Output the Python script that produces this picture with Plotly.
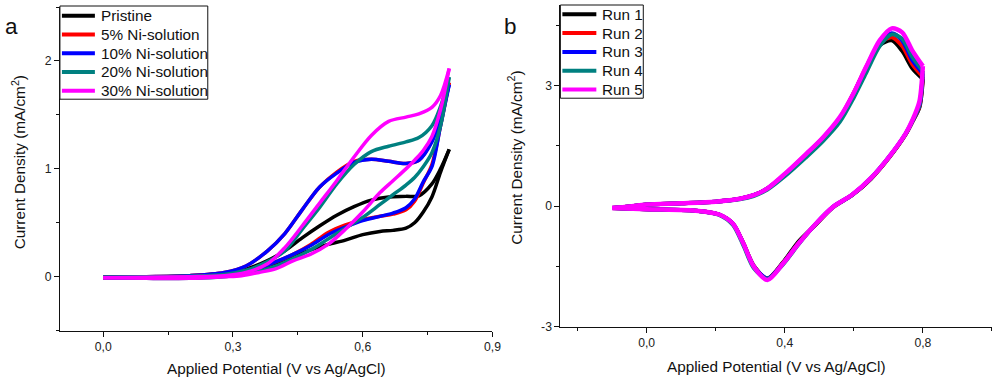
import plotly.graph_objects as go

# ---------- Panel a: Ni-solution concentration series ----------
pot_a_fwd = [0.00, 0.10, 0.20, 0.28, 0.33, 0.38, 0.42, 0.46, 0.50, 0.54, 0.58, 0.62, 0.66, 0.70, 0.73, 0.76, 0.78, 0.80]
pot_a_rev = [0.80, 0.78, 0.76, 0.74, 0.72, 0.70, 0.67, 0.64, 0.60, 0.56, 0.52, 0.48, 0.44, 0.40, 0.36, 0.32, 0.28, 0.20, 0.10, 0.00]

series_a_names = ["Pristine", "5% Ni-solution", "10% Ni-solution", "20% Ni-solution", "30% Ni-solution"]
series_a_colors = ["#000000", "#FF0000", "#0000FF", "#008080", "#FF00FF"]

pristine_fwd = [-0.005, 0.0, 0.01, 0.03, 0.07, 0.15, 0.24, 0.36, 0.47, 0.57, 0.65, 0.71, 0.74, 0.745, 0.75, 0.86, 1.00, 1.18]
pristine_rev = [1.18, 0.97, 0.74, 0.60, 0.50, 0.45, 0.43, 0.42, 0.39, 0.34, 0.30, 0.25, 0.19, 0.12, 0.07, 0.03, 0.01, -0.01, -0.015, -0.01]

ni5_fwd = [-0.005, 0.0, 0.01, 0.04, 0.10, 0.24, 0.40, 0.62, 0.83, 0.97, 1.07, 1.09, 1.07, 1.05, 1.08, 1.26, 1.48, 1.80]
ni5_rev = [1.80, 1.40, 1.04, 0.87, 0.70, 0.62, 0.58, 0.56, 0.53, 0.48, 0.41, 0.30, 0.21, 0.14, 0.08, 0.04, 0.015, -0.01, -0.015, -0.01]

ni10_fwd = [-0.005, 0.0, 0.01, 0.04, 0.10, 0.24, 0.40, 0.62, 0.83, 0.96, 1.06, 1.09, 1.07, 1.05, 1.08, 1.25, 1.47, 1.78]
ni10_rev = [1.78, 1.40, 1.02, 0.88, 0.72, 0.64, 0.59, 0.56, 0.52, 0.46, 0.39, 0.29, 0.21, 0.14, 0.08, 0.04, 0.015, -0.01, -0.015, -0.01]

ni20_fwd = [-0.005, 0.0, 0.005, 0.02, 0.06, 0.14, 0.24, 0.44, 0.64, 0.86, 1.04, 1.16, 1.21, 1.25, 1.29, 1.40, 1.58, 1.85]
ni20_rev = [1.85, 1.40, 1.15, 1.02, 0.92, 0.85, 0.76, 0.67, 0.55, 0.45, 0.35, 0.25, 0.17, 0.10, 0.05, 0.02, 0.0, -0.015, -0.015, -0.01]

ni30_fwd = [-0.01, -0.005, 0.0, 0.01, 0.04, 0.12, 0.27, 0.47, 0.68, 0.89, 1.11, 1.31, 1.44, 1.48, 1.51, 1.57, 1.68, 1.93]
ni30_rev = [1.93, 1.55, 1.30, 1.17, 1.08, 1.00, 0.89, 0.78, 0.60, 0.44, 0.30, 0.21, 0.15, 0.075, 0.04, 0.01, 0.0, -0.015, -0.015, -0.01]

series_a_fwd = [pristine_fwd, ni5_fwd, ni10_fwd, ni20_fwd, ni30_fwd]
series_a_rev = [pristine_rev, ni5_rev, ni10_rev, ni20_rev, ni30_rev]

# ---------- Panel b: repeated cycles ----------
pot_b_fwd = [-0.10, -0.05, 0.00, 0.10, 0.20, 0.27, 0.31, 0.35, 0.40, 0.46, 0.51, 0.56, 0.60, 0.635, 0.675, 0.71, 0.74, 0.77, 0.80]
pot_b_rev = [0.80, 0.79, 0.77, 0.75, 0.70, 0.65, 0.595, 0.54, 0.49, 0.44, 0.395, 0.35, 0.31, 0.28, 0.25, 0.21, 0.15, 0.00, -0.10]

series_b_names = ["Run 1", "Run 2", "Run 3", "Run 4", "Run 5"]
series_b_colors = ["#000000", "#FF0000", "#0000FF", "#008080", "#FF00FF"]

run1_fwd = [-0.05, -0.01, 0.04, 0.07, 0.11, 0.18, 0.27, 0.44, 0.78, 1.26, 1.68, 2.19, 2.80, 3.42, 4.00, 4.12, 3.86, 3.42, 3.16]
run1_rev = [3.16, 2.45, 2.10, 1.78, 1.18, 0.68, 0.27, -0.03, -0.46, -0.88, -1.40, -1.80, -1.48, -0.92, -0.44, -0.21, -0.12, -0.08, -0.05]

run2_fwd = [-0.05, -0.01, 0.04, 0.07, 0.11, 0.18, 0.27, 0.44, 0.79, 1.27, 1.69, 2.20, 2.82, 3.44, 4.05, 4.20, 3.98, 3.52, 3.22]
run2_rev = [3.22, 2.48, 2.11, 1.79, 1.19, 0.69, 0.28, -0.02, -0.45, -0.92, -1.42, -1.80, -1.49, -0.93, -0.44, -0.21, -0.12, -0.08, -0.05]

run3_fwd = [-0.05, -0.01, 0.04, 0.07, 0.11, 0.18, 0.27, 0.44, 0.78, 1.25, 1.67, 2.18, 2.80, 3.42, 4.06, 4.30, 4.12, 3.62, 3.30]
run3_rev = [3.30, 2.50, 2.12, 1.80, 1.20, 0.70, 0.28, -0.02, -0.44, -0.93, -1.43, -1.80, -1.50, -0.94, -0.44, -0.21, -0.12, -0.08, -0.05]

run4_fwd = [-0.05, -0.01, 0.04, 0.07, 0.11, 0.17, 0.25, 0.41, 0.74, 1.20, 1.61, 2.10, 2.70, 3.30, 3.98, 4.27, 4.16, 3.70, 3.36]
run4_rev = [3.36, 2.52, 2.12, 1.80, 1.20, 0.70, 0.28, -0.02, -0.44, -0.95, -1.45, -1.81, -1.54, -0.98, -0.47, -0.22, -0.12, -0.08, -0.05]

run5_fwd = [-0.05, -0.01, 0.04, 0.07, 0.11, 0.18, 0.27, 0.44, 0.80, 1.28, 1.70, 2.22, 2.82, 3.45, 4.12, 4.42, 4.32, 3.86, 3.48]
run5_rev = [3.48, 2.60, 2.14, 1.80, 1.20, 0.70, 0.28, -0.02, -0.44, -0.93, -1.43, -1.84, -1.50, -0.93, -0.44, -0.21, -0.12, -0.08, -0.05]

series_b_fwd = [run1_fwd, run2_fwd, run3_fwd, run4_fwd, run5_fwd]
series_b_rev = [run1_rev, run2_rev, run3_rev, run4_rev, run5_rev]

# Tick labels
xticks_a = [0.0, 0.3, 0.6, 0.9]
xlabels_a = ["0,0", "0,3", "0,6", "0,9"]
yticks_a = [0, 1, 2]
ylabels_a = ["0", "1", "2"]
xticks_b = [0.0, 0.4, 0.8]
xlabels_b = ["0,0", "0,4", "0,8"]
yticks_b = [-3, 0, 3]
ylabels_b = ["-3", "0", "3"]

W, H = 1001, 381
# layout grid used for placing panels, keys and labels
GRID_W, GRID_H = 993.1, 373.2
FONT = "Arial, 'Liberation Sans', sans-serif"
INK = "#111111"


def px_x(p):
    return p / GRID_W


def px_y(p):
    return 1 - p / GRID_H


fig = go.Figure()

for name, color, yf, yr in zip(series_a_names, series_a_colors, series_a_fwd, series_a_rev):
    for xs, ys in ((pot_a_fwd, yf), (pot_a_rev, yr)):
        fig.add_trace(go.Scatter(x=xs, y=ys, mode="lines", name=name, showlegend=False,
                                 line=dict(color=color, width=3.5, shape="spline", smoothing=0.9),
                                 xaxis="x", yaxis="y"))

for name, color, yf, yr in zip(series_b_names, series_b_colors, series_b_fwd, series_b_rev):
    w = 4.5 if name == "Run 5" else 4
    for xs, ys in ((pot_b_fwd, yf), (pot_b_rev, yr)):
        fig.add_trace(go.Scatter(x=xs, y=ys, mode="lines", name=name, showlegend=False,
                                 line=dict(color=color, width=w, shape="spline", smoothing=0.8),
                                 xaxis="x2", yaxis="y2"))

axis_common = dict(showline=True, linecolor=INK, linewidth=1, ticks="outside", ticklen=5,
                   tickcolor=INK, showgrid=False, zeroline=False, mirror=False,
                   tickfont=dict(family=FONT, size=12.2, color="#222"))

fig.update_layout(
    width=W, height=H,
    margin=dict(l=0, r=0, t=0, b=0),
    paper_bgcolor="white", plot_bgcolor="white",
    font=dict(family=FONT, color=INK),
    showlegend=False,
    xaxis=dict(domain=[px_x(60), px_x(493)], range=[-0.1, 0.9], anchor="y",
               tickvals=xticks_a, ticktext=xlabels_a,
               minor=dict(ticks="outside", ticklen=3, tick0=0, dtick=0.15, tickcolor=INK, showgrid=False),
               **axis_common),
    yaxis=dict(domain=[px_y(330), px_y(7)], range=[-0.5, 2.5], anchor="x",
               tickvals=yticks_a, ticktext=ylabels_a,
               minor=dict(ticks="outside", ticklen=3, tick0=0, dtick=0.5, tickcolor=INK, showgrid=False),
               **axis_common),
    xaxis2=dict(domain=[px_x(561), px_x(993)], range=[-0.25, 1.0], anchor="y2",
                tickvals=xticks_b, ticktext=xlabels_b,
                minor=dict(ticks="outside", ticklen=3, tick0=0, dtick=0.2, tickcolor=INK, showgrid=False),
                **axis_common),
    yaxis2=dict(domain=[px_y(326), px_y(5)], range=[-3, 5], anchor="x2",
                tickvals=yticks_b, ticktext=ylabels_b,
                minor=dict(ticks="outside", ticklen=3, tick0=0, dtick=1.5, tickcolor=INK, showgrid=False),
                **axis_common),
)

shapes = []
ann = [
    dict(text="a", x=px_x(3), y=px_y(26), xanchor="left", yanchor="middle", font=dict(size=22.5)),
    dict(text="b", x=px_x(503), y=px_y(26), xanchor="left", yanchor="middle", font=dict(size=22.5)),
    dict(text="Current Density (mA/cm<sup>2</sup>)", x=px_x(18), y=px_y(162), textangle=-90,
         xanchor="center", yanchor="middle", font=dict(size=15.3)),
    dict(text="Current Density (mA/cm<sup>2</sup>)", x=px_x(515), y=px_y(157), textangle=-90,
         xanchor="center", yanchor="middle", font=dict(size=15.3)),
    dict(text="Applied Potential (V vs Ag/AgCl)", x=px_x(277), y=px_y(368),
         xanchor="center", yanchor="middle", font=dict(size=15.3)),
    dict(text="Applied Potential (V vs Ag/AgCl)", x=px_x(777), y=px_y(366),
         xanchor="center", yanchor="middle", font=dict(size=15.3)),
]


def add_key(names, colors, box, first_row, row_step, line_x):
    """Boxed key: coloured line sample followed by the series name, one row per series."""
    x0, y0, x1, y1 = box
    shapes.append(dict(type="rect", xref="paper", yref="paper",
                       x0=px_x(x0), x1=px_x(x1), y0=px_y(y1), y1=px_y(y0),
                       line=dict(color=INK, width=1), fillcolor="white", layer="above"))
    for i, (nm, col) in enumerate(zip(names, colors)):
        yc = first_row + i * row_step
        shapes.append(dict(type="line", xref="paper", yref="paper",
                           x0=px_x(line_x[0]), x1=px_x(line_x[1]), y0=px_y(yc), y1=px_y(yc),
                           line=dict(color=col, width=4), layer="above"))
        ann.append(dict(text=nm, x=px_x(line_x[1] + 4), y=px_y(yc), xanchor="left", yanchor="middle",
                        font=dict(size=15.3)))


add_key(series_a_names, series_a_colors, (60, 6, 208, 99), 15.7, 18.7, (62, 95))
add_key(series_b_names, series_b_colors, (561, 5, 644, 98), 14.2, 18.8, (563, 597))

for a in ann:
    a.update(xref="paper", yref="paper", showarrow=False)
    a["font"] = dict(family=FONT, color=INK, **a["font"])
fig.update_layout(annotations=ann, shapes=shapes)

fig.write_html("out.html")
